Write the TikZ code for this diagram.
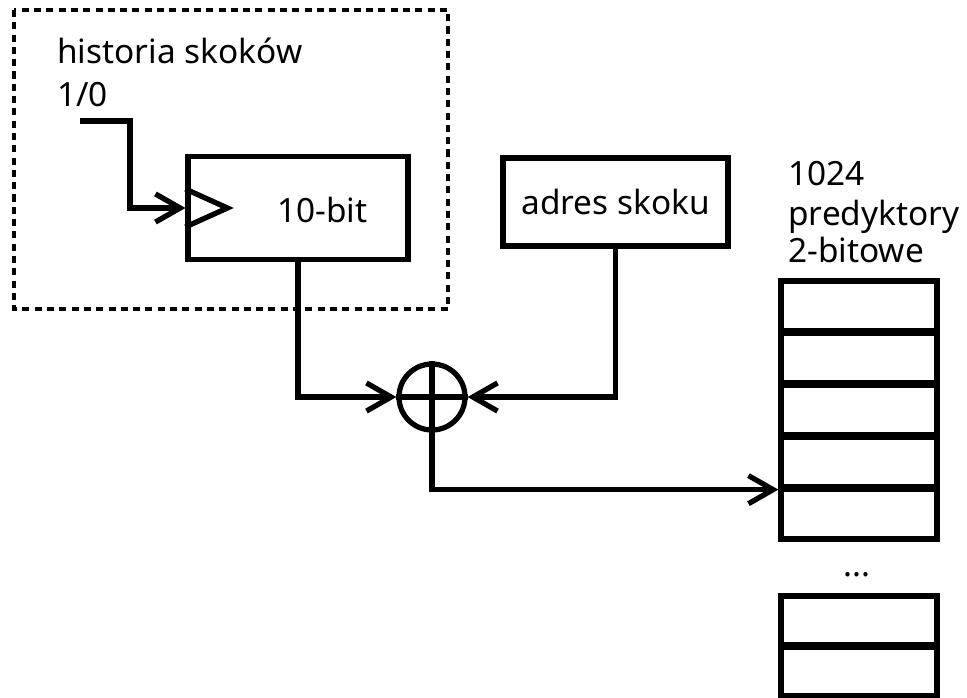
\documentclass[tikz,border=0pt]{standalone}
\usepackage{fontspec}
\setmainfont{Noto Sans}
\usetikzlibrary{arrows.meta}

\begin{document}
\begin{tikzpicture}[x=0.02cm, y=-0.02cm,
    wire/.style={line width=3pt},
    arr/.style={wire, -{Straight Barb[length=14pt, width=16pt]}},
    box/.style={draw, line width=3pt, rectangle, inner sep=0pt},
    cell/.style={box, minimum width=3.12cm, minimum height=1cm},
    lbl/.style={anchor=base west, inner sep=0pt, font=\fontsize{19}{23}\selectfont}]
    \useasboundingbox (0,0) rectangle (967,697);
    % Draw the history register region
    \draw[line width=1.9pt, dash pattern=on 4pt off 3pt] (14,10) rectangle (448,309);
    \node[lbl] (hist) at (57,63) {historia skoków};
    \node[lbl] (bit) at (57,106) {1/0};
    \node[box, minimum width=4.4cm, minimum height=2.06cm] (reg) at (298,208) {};
    \node[lbl] (regtxt) at (277,222) {10-bit};
    \draw[wire, line join=miter] (reg.west) ++(0,-19) -- ++(42,19) -- ++(-42,19); % clock input
    \coordinate (in) at (80,121);
    \coordinate (kink) at (130,121);
    \draw[arr] (in) -- (kink) |- (reg.west);

    % Draw the branch address
    \node[box, minimum width=4.5cm, minimum height=1.76cm,
          font=\fontsize{19}{23}\selectfont] (adr) at (615.5,202) {adres skoku};

    % Draw the XOR gate
    \node[draw, circle, line width=3pt, minimum size=1.32cm, inner sep=0pt] (xor) at (432,397) {};
    \draw[wire] (xor.north) -- (xor.south) (xor.west) -- (xor.east);
    \draw[arr] (reg.south) |- (xor.west);
    \draw[arr] (adr.south) |- (xor.east);

    % Draw the predictor table
    \node[lbl] (cnt) at (788,185) {1024};
    \node[lbl] (pred) at (788,225) {predyktory};
    \node[lbl] (wid) at (788,262) {2-bitowe};
    \foreach \i in {1,...,5}
        \node[cell] (row\i) at (859,{254+52*\i}) {};
    \node[lbl] (dots) at (843,576) {...};
    \node[cell, minimum height=0.98cm] (rowa) at (859,620.5) {};
    \node[cell, minimum height=0.98cm] (rowb) at (859,671.5) {};
    \draw[arr] (xor.south) |- (row4.south west);
\end{tikzpicture}
\end{document}
